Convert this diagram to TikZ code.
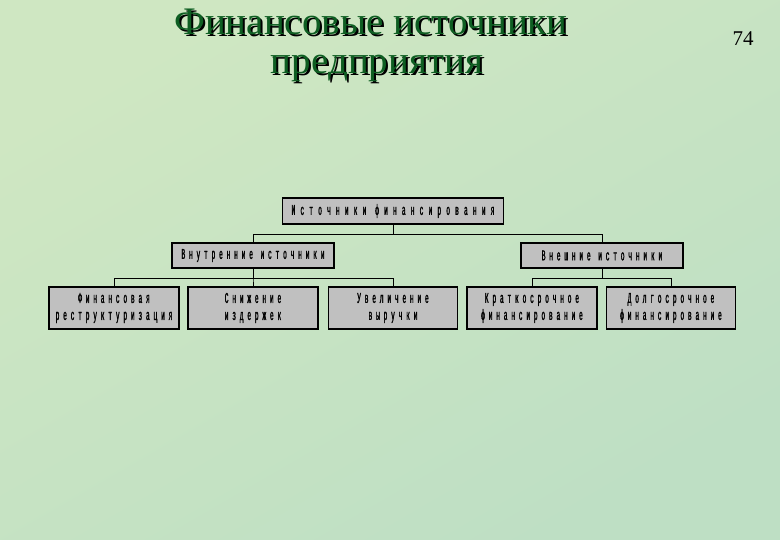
\documentclass[tikz,border=0pt]{standalone}
\usepackage{fontspec}
\setmainfont{Liberation Serif}
\newfontfamily\boxfont[FakeStretch=0.42,LetterSpace=25,FakeBold=1.2]{Liberation Mono}
\newfontfamily\boxfontwide[FakeStretch=0.42,LetterSpace=34,FakeBold=1.2]{Liberation Mono}
\definecolor{bgA}{HTML}{BEDFC4}
\definecolor{bgB}{HTML}{CFE7C2}
\definecolor{titlegreen}{HTML}{0E5E22}
\definecolor{boxgray}{HTML}{C0C0C0}
\newcommand{\shadowtext}[1]{\rlap{\kern2pt\raisebox{-2pt}{\color{black}#1}}{\color{titlegreen}#1}}
\tikzset{
  bx/.style={draw=black, line width=1.1pt, fill=boxgray, inner sep=0pt, align=center,
    font=\boxfont\fontsize{15}{17}\selectfont},
  conn/.style={draw=black, line width=1pt},
  ttl/.style={font=\fontsize{39}{42}\selectfont, anchor=base, inner sep=0pt},
}
\begin{document}
\begin{tikzpicture}[x=1pt,y=-1pt]
\useasboundingbox (0,0) rectangle (780,540);
\shade[top color=bgB, bottom color=bgA, shading angle=30] (0,0) rectangle (780,540);
% title
\node[ttl] (t1) at (371,35) {\shadowtext{Финансовые источники}};
\node[ttl] (t2) at (377,74) {\shadowtext{предприятия}};
\node[font=\fontsize{21}{24}\selectfont, anchor=base, inner sep=0pt] (pg) at (743,46) {74};
% boxes
\node[bx, minimum width=221, minimum height=26, font=\boxfontwide\fontsize{15}{17}\selectfont] (top) at (393,211) {Источники финансирования};
\node[bx, minimum width=162, minimum height=25] (ii) at (253,255.5) {Внутренние источники};
\node[bx, minimum width=162, minimum height=25] (oi) at (602,255.5) {Внешние источники};
\node[bx, minimum width=130, minimum height=42] (b1) at (114,308) {Финансовая\\реструктуризация};
\node[bx, minimum width=130, minimum height=42] (b2) at (253,308) {Снижение\\издержек};
\node[bx, minimum width=129, minimum height=42] (b3) at (393,308) {Увеличение\\выручки};
\node[bx, minimum width=130, minimum height=42] (b4) at (532,308) {Краткосрочное\\финансирование};
\node[bx, minimum width=129, minimum height=42] (b5) at (671,308) {Долгосрочное\\финансирование};
% connectors
\draw[conn] (top.south) -- ++(0,10) -| (ii.north);
\draw[conn] (top.south) -- ++(0,10) -| (oi.north);
\draw[conn] (ii.south) -- ++(0,10) -| (b1.north);
\draw[conn] (ii.south) -- ++(0,10) -| (b2.north);
\draw[conn] (ii.south) -- ++(0,10) -| (b3.north);
\draw[conn] (oi.south) -- ++(0,10) -| (b4.north);
\draw[conn] (oi.south) -- ++(0,10) -| (b5.north);
\end{tikzpicture}
\end{document}
